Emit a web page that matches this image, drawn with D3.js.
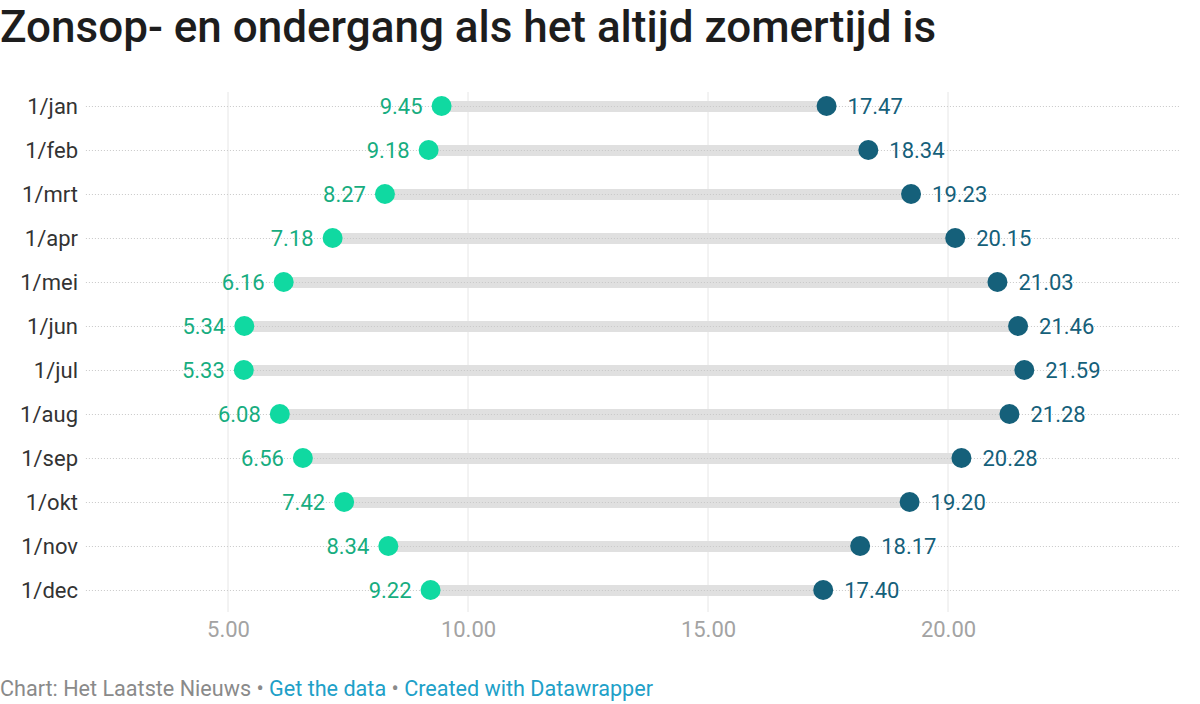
<!DOCTYPE html>
<html>
<head>
<meta charset="utf-8">
<script src="https://cdnjs.cloudflare.com/ajax/libs/d3/7.8.5/d3.min.js"></script>
<style>
  body { margin: 0; background: #fff; font-family: Roboto, sans-serif; }
  svg { display: block; }
</style>
</head>
<body>
<div id="chart-area"></div>
<script>
// data
var months = ["1/jan", "1/feb", "1/mrt", "1/apr", "1/mei", "1/jun", "1/jul", "1/aug", "1/sep", "1/okt", "1/nov", "1/dec"];
var sunrise = [9.45, 9.18, 8.27, 7.18, 6.16, 5.34, 5.33, 6.08, 6.56, 7.42, 8.34, 9.22];
var sunset = [17.47, 18.34, 19.23, 20.15, 21.03, 21.46, 21.59, 21.28, 20.28, 19.20, 18.17, 17.40];
var xTicks = [5, 10, 15, 20];

var width = 1200, height = 704;
var green = "#10d9a1", greenText = "#17ad80", blue = "#15607a";

var svg = d3.select("#chart-area")
    .append("svg")
    .attr("width", width)
    .attr("height", height);

var x = d3.scaleLinear().domain([5, 20]).range([228, 948]);
var xMin = 2.04, xMax = 24.83;

var y = d3.scalePoint().domain(months).range([106, 590]);

// title
svg.append("text")
    .attr("x", 0)
    .attr("y", 42)
    .attr("font-size", 44)
    .attr("font-weight", 500)
    .attr("fill", "#1d1d1d")
    .text("Zonsop- en ondergang als het altijd zomertijd is");

// vertical grid
svg.append("g").selectAll("line")
    .data(xTicks)
    .enter()
    .append("line")
    .attr("x1", function (d) { return x(d); })
    .attr("x2", function (d) { return x(d); })
    .attr("y1", 92)
    .attr("y2", 612)
    .attr("stroke", "#e6e6e6")
    .attr("stroke-width", 1);

// x axis tick labels
var xAxis = d3.axisBottom(x).tickValues(xTicks).tickSize(0).tickFormat(d3.format(".2f"));
var ax = svg.append("g")
    .attr("transform", "translate(0,618)")
    .call(xAxis);
ax.select(".domain").remove();
ax.selectAll("text")
    .attr("font-family", "Roboto, sans-serif")
    .attr("font-size", 22)
    .attr("fill", "#a3a3a3");

var rows = months.map(function (m, i) {
    return { month: m, rise: sunrise[i], set: sunset[i] };
});

// gray range bars
svg.append("g").selectAll("rect")
    .data(rows)
    .enter()
    .append("rect")
    .attr("x", function (d) { return x(d.rise); })
    .attr("width", function (d) { return x(d.set) - x(d.rise); })
    .attr("y", function (d) { return y(d.month) - 5; })
    .attr("height", 11)
    .attr("fill", "#e0e0e0");

// dotted row lines
svg.append("g").selectAll("line")
    .data(rows)
    .enter()
    .append("line")
    .attr("x1", x(xMin))
    .attr("x2", x(xMax))
    .attr("y1", function (d) { return y(d.month) + 0.5; })
    .attr("y2", function (d) { return y(d.month) + 0.5; })
    .attr("stroke", "#c8c8c8")
    .attr("stroke-width", 1)
    .attr("stroke-dasharray", "1,2");

// month labels
svg.append("g").selectAll("text")
    .data(rows)
    .enter()
    .append("text")
    .attr("x", 78)
    .attr("y", function (d) { return y(d.month); })
    .attr("dy", "0.35em")
    .attr("text-anchor", "end")
    .attr("font-size", 22)
    .attr("fill", "#333")
    .text(function (d) { return d.month; });

// sunrise dots + labels
svg.append("g").selectAll("circle")
    .data(rows)
    .enter()
    .append("circle")
    .attr("cx", function (d) { return x(d.rise); })
    .attr("cy", function (d) { return y(d.month); })
    .attr("r", 10)
    .attr("fill", green);

svg.append("g").selectAll("text")
    .data(rows)
    .enter()
    .append("text")
    .attr("x", function (d) { return x(d.rise) - 19; })
    .attr("y", function (d) { return y(d.month); })
    .attr("dy", "0.35em")
    .attr("text-anchor", "end")
    .attr("font-size", 22)
    .attr("fill", greenText)
    .text(function (d) { return d3.format(".2f")(d.rise); });

// sunset dots + labels
svg.append("g").selectAll("circle")
    .data(rows)
    .enter()
    .append("circle")
    .attr("cx", function (d) { return x(d.set); })
    .attr("cy", function (d) { return y(d.month); })
    .attr("r", 10)
    .attr("fill", blue);

svg.append("g").selectAll("text")
    .data(rows)
    .enter()
    .append("text")
    .attr("x", function (d) { return x(d.set) + 21; })
    .attr("y", function (d) { return y(d.month); })
    .attr("dy", "0.35em")
    .attr("font-size", 22)
    .attr("fill", blue)
    .text(function (d) { return d3.format(".2f")(d.set); });

// footer
var foot = svg.append("text")
    .attr("x", 0)
    .attr("y", 696)
    .attr("font-size", 21.6)
    .attr("fill", "#8a8a8a");
foot.append("tspan").text("Chart: Het Laatste Nieuws • ");
foot.append("tspan").attr("fill", "#20a0c8").text("Get the data");
foot.append("tspan").text(" • ");
foot.append("tspan").attr("fill", "#20a0c8").text("Created with Datawrapper");
</script>
</body>
</html>
